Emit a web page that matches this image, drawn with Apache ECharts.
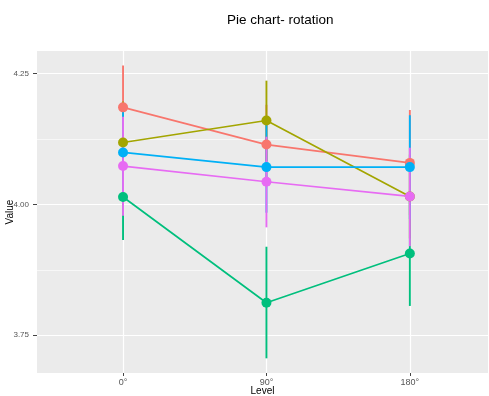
<!DOCTYPE html>
<html>
<head>
<meta charset="utf-8">
<script src="https://cdn.jsdelivr.net/npm/echarts@6/dist/echarts.min.js"></script>
<style>html,body{margin:0;padding:0;background:#fff}#c{width:489px;height:396px}</style>
</head>
<body>
<div id="c"></div>
<script>
var levels = ['0°', '90°', '180°'];
var groupNames = ['G1', 'G2', 'G3', 'G4', 'G5'];
var groupColors = ['#F8766D', '#A3A500', '#00BF7D', '#00B0F6', '#E76BF3'];
var meanG1 = [4.185, 4.114, 4.079];
var meanG2 = [4.118, 4.160, 4.015];
var meanG3 = [4.014, 3.812, 3.906];
var meanG4 = [4.099, 4.071, 4.071];
var meanG5 = [4.073, 4.043, 4.015];
var lowG1 = [4.105, 4.035, 3.979];
var lowG2 = [4.040, 4.083, 3.935];
var lowG3 = [3.932, 3.706, 3.806];
var lowG4 = [4.018, 3.984, 3.972];
var lowG5 = [3.978, 3.956, 3.920];
var upG1 = [4.265, 4.190, 4.180];
var upG2 = [4.196, 4.236, 4.095];
var upG3 = [4.095, 3.919, 4.006];
var upG4 = [4.180, 4.158, 4.170];
var upG5 = [4.167, 4.129, 4.108];
var yTicks = [3.75, 4.00, 4.25];
var yMinor = [3.875, 4.125];

var means = [meanG1, meanG2, meanG3, meanG4, meanG5];
var lows = [lowG1, lowG2, lowG3, lowG4, lowG5];
var ups = [upG1, upG2, upG3, upG4, upG5];
var xIdx = levels.map(function (_, i) { return i; });

var series = [];
groupNames.forEach(function (g, k) {
  series.push({
    type: 'custom', name: g, z: 2, silent: true,
    data: xIdx.map(function (i) { return [i, lows[k][i], ups[k][i]]; }),
    encode: { x: 0, y: [1, 2] },
    renderItem: (function (col) {
      return function (params, api) {
        var a = api.coord([api.value(0), api.value(1)]);
        var b = api.coord([api.value(0), api.value(2)]);
        return { type: 'line', shape: { x1: a[0], y1: a[1], x2: b[0], y2: b[1] },
                 style: { stroke: col, lineWidth: 1.9 } };
      };
    })(groupColors[k])
  });
});
groupNames.forEach(function (g, k) {
  series.push({
    type: 'line', name: g, z: 3, silent: true, showSymbol: false,
    data: xIdx.map(function (i) { return [i, means[k][i]]; }),
    lineStyle: { color: groupColors[k], width: 1.7 }
  });
});
groupNames.forEach(function (g, k) {
  series.push({
    type: 'scatter', name: g, z: 4, silent: true, symbolSize: 10,
    data: xIdx.map(function (i) { return [i, means[k][i]]; }),
    itemStyle: { color: groupColors[k], opacity: 1 }
  });
});

var chart = echarts.init(document.getElementById('c'), null, { renderer: 'canvas' });
chart.setOption({
  animation: false,
  backgroundColor: '#ffffff',
  textStyle: { fontFamily: 'Liberation Sans, Arial, sans-serif' },
  title: {
    text: 'Pie chart- rotation', left: 222, top: 8,
    textStyle: { fontSize: 13.5, fontWeight: 'normal', color: '#000', fontFamily: 'Liberation Sans, Arial, sans-serif' }
  },
  grid: { left: 37, right: 1, top: 51, bottom: 23, show: true, backgroundColor: '#EBEBEB', borderWidth: 0,
          containLabel: false, outerBoundsMode: 'none' },
  xAxis: {
    type: 'value', min: -0.6, max: 2.545,
    name: 'Level', nameLocation: 'middle', nameGap: 13, nameMoveOverlap: false,
    nameTextStyle: { fontSize: 10, color: '#000' },
    axisLine: { show: false, onZero: false },
    axisTick: { show: true, length: 3, customValues: xIdx, lineStyle: { color: '#444', width: 1 } },
    axisLabel: { customValues: xIdx, fontSize: 9, color: '#555', margin: 5,
      formatter: function (v) { return levels[Math.round(v)]; } },
    splitLine: { show: true, lineStyle: { color: '#ffffff', width: 1.2 } }
  },
  yAxis: [{
    type: 'value', min: 3.678, max: 4.2926,
    name: 'Value', nameLocation: 'middle', nameGap: 21.5, nameRotate: 90, nameMoveOverlap: false,
    nameTextStyle: { fontSize: 10, color: '#000' },
    axisLine: { show: false, onZero: false },
    axisTick: { show: true, length: 4, customValues: yTicks, lineStyle: { color: '#444', width: 1 } },
    axisLabel: { customValues: yTicks, fontSize: 8, color: '#555', margin: 8,
      formatter: function (v) { return v.toFixed(2); } },
    splitLine: { show: true, lineStyle: { color: '#ffffff', width: 1.2 } }
  }, {
    type: 'value', min: 3.678, max: 4.2926, position: 'left',
    axisLine: { show: false, onZero: false }, axisLabel: { show: false },
    axisTick: { show: false, customValues: yMinor },
    splitLine: { show: true, lineStyle: { color: '#ffffff', width: 0.6 } }
  }],
  series: series
});
</script>
</body>
</html>
